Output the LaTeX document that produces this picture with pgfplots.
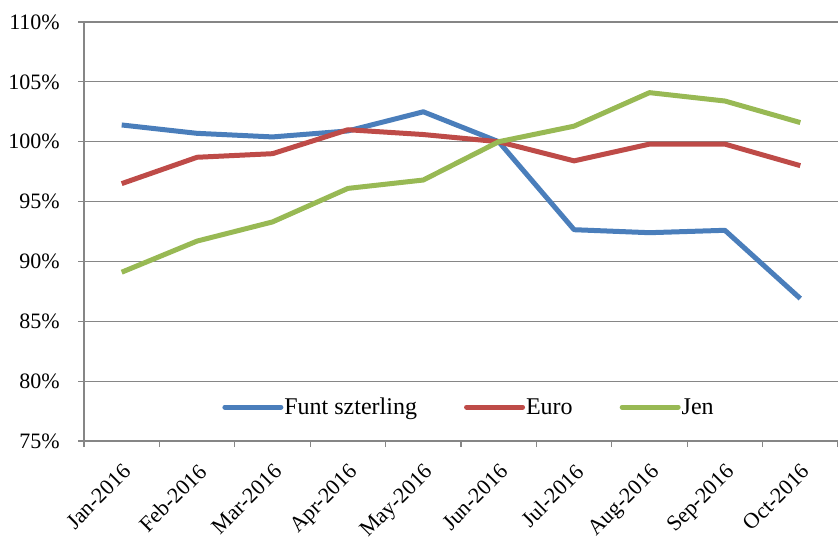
\documentclass[border=0pt]{standalone}
\usepackage{fontspec}
\setmainfont{Liberation Serif}
\usepackage{pgfplots}
\pgfplotsset{compat=1.18}
\definecolor{cblue}{HTML}{4A7EBB}
\definecolor{cred}{HTML}{BE4B48}
\definecolor{cgreen}{HTML}{98B954}
\definecolor{cgrid}{HTML}{868686}
\begin{document}
\begin{tikzpicture}
\path[use as bounding box] (0,0) rectangle (838pt,538pt);
\begin{axis}[
  at={(84pt,97pt)}, anchor=south west,
  scale only axis, width=754pt, height=419pt,
  xmin=-0.5, xmax=9.5, ymin=75, ymax=110,
  axis x line*=bottom, axis y line*=left,
  axis line style={cgrid, line width=1.2pt, -},
  xtick={-0.5,0.5,...,9.5},
  x tick label as interval,
  xticklabels={Jan-2016,Feb-2016,Mar-2016,Apr-2016,May-2016,Jun-2016,Jul-2016,Aug-2016,Sep-2016,Oct-2016},
  x tick label style={rotate=45, anchor=north east, inner sep=2pt, xshift=-9pt, yshift=-9pt},
  ytick={75,80,...,110},
  yticklabel={\pgfmathprintnumber{\tick}\%},
  /pgf/number format/assume math mode=true,
  y tick label style={inner sep=2pt, xshift=-16pt},
  tick align=outside, major tick length=6pt,
  tick style={cgrid, line width=1.2pt},
  ymajorgrids, major grid style={cgrid, line width=1.2pt},
  font=\fontsize{22}{26}\selectfont,
  tick label style={font=\fontsize{22}{26}\selectfont},
  legend style={at={(0.510,0.081)}, anchor=center, draw=none, fill=none,
    font=\fontsize{24}{28}\selectfont, column sep=0pt, inner sep=0pt,
    nodes={inner sep=1pt},
    /tikz/every even column/.append style={column sep=46pt}},
  legend columns=3,
  legend cell align=left,
  legend image code/.code={\draw[#1, line cap=round] (0pt,0pt) -- (56pt,0pt);},
  every axis plot/.append style={line width=5pt, line join=round, mark=none},
  clip=false,
]
\addplot[cblue] coordinates {(0,101.4) (1,100.7) (2,100.4) (3,100.9) (4,102.5) (5,100.0) (6,92.65) (7,92.4) (8,92.6) (9,86.9)};
\addlegendentry{Funt szterling}
\addplot[cred] coordinates {(0,96.5) (1,98.7) (2,99.0) (3,101.0) (4,100.6) (5,100.0) (6,98.4) (7,99.8) (8,99.8) (9,98.0)};
\addlegendentry{Euro}
\addplot[cgreen] coordinates {(0,89.1) (1,91.7) (2,93.3) (3,96.1) (4,96.8) (5,100.0) (6,101.3) (7,104.1) (8,103.4) (9,101.6)};
\addlegendentry{Jen}
\end{axis}
\end{tikzpicture}
\end{document}
